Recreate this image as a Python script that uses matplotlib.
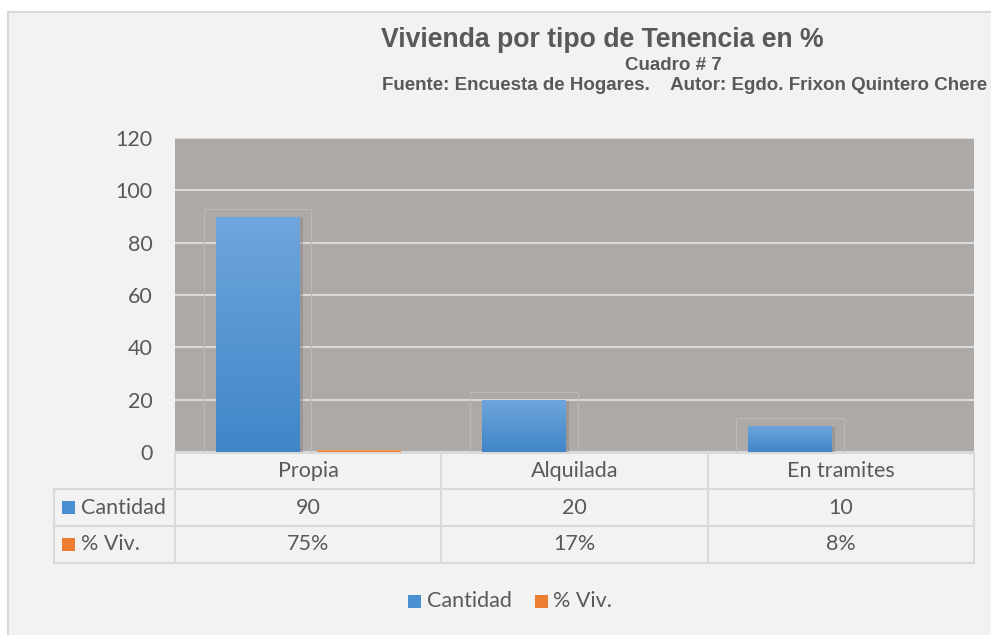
import matplotlib
matplotlib.use("Agg")
import matplotlib.pyplot as plt
import numpy as np
from matplotlib.patches import Rectangle
from matplotlib.transforms import blended_transform_factory
from matplotlib.lines import Line2D

categories = ["Propia", "Alquilada", "En tramites"]
cantidad = [90, 20, 10]
pct_viv = [0.75, 0.17, 0.08]
pct_labels = ["75%", "17%", "8%"]
series_names = ["Cantidad", "% Viv."]
yticks = [0, 20, 40, 60, 80, 100, 120]

W, H = 991, 635
FS = 15.5
fig = plt.figure(figsize=(W / 100, H / 100), dpi=100)
fig.patch.set_facecolor("white")

# chart area background with border
fig.patches.append(Rectangle((8 / W, -0.01), 1.0, 1 - 12 / H + 0.01, transform=fig.transFigure,
                             facecolor="#f2f2f2", edgecolor="#d9d9d9", linewidth=1.5, zorder=-5))

ax = fig.add_axes([175 / W, 1 - 452 / H, (974 - 175) / W, (452 - 138) / H])
ax.set_zorder(1)
ax.set_facecolor("#ada9a6")
ax.set_xlim(-0.5, 2.5)
ax.set_ylim(0, 120)
ax.set_yticks(yticks)
ax.set_yticklabels([str(v) for v in yticks], fontsize=FS, color="#595959", family="Lato")
ax.tick_params(axis="y", length=0, pad=16)
ax.set_xticks([])
for s in ax.spines.values():
    s.set_visible(False)
ax.grid(axis="y", color="#d9d9d9", linewidth=1.5)
ax.set_axisbelow(True)

x = np.arange(len(categories))
off, bw = 0.19, 0.315

def grad_bars(xs, vals, c_top, c_bot, z=3, frame=True):
    bars = ax.bar(xs, vals, width=bw, color=c_bot, zorder=z, linewidth=0)
    cmap = matplotlib.colors.LinearSegmentedColormap.from_list("g", [c_bot, c_top])
    grad = np.linspace(0, 1, 256).reshape(-1, 1)
    for b in bars:
        xb, yb, wb, hb = b.get_x(), b.get_y(), b.get_width(), b.get_height()
        if hb <= 0:
            continue
        im = ax.imshow(grad, extent=[xb, xb + wb, yb, yb + hb], origin="lower",
                       cmap=cmap, aspect="auto", zorder=z + 0.1)
        im.set_clip_path(b)
        if frame:
            ax.add_patch(Rectangle((xb - 0.045, yb), wb + 0.09, hb + 3.0, fill=False,
                                   edgecolor="#bdb9b6", linewidth=0.8, zorder=2))
            ax.add_patch(Rectangle((xb + 0.012, yb), wb, hb - 0.4, facecolor="#8f8a87",
                                   edgecolor="none", alpha=0.6, zorder=z - 0.5))
    return bars

grad_bars(x - off, cantidad, "#6fa6dd", "#3f86c8")
grad_bars(x + off, pct_viv, "#f4a263", "#ed7d31", frame=False)
ax.set_xlim(-0.5, 2.5)
ax.set_ylim(0, 120)

# data table
tr = blended_transform_factory(ax.transData, ax.transAxes)
lc = "#d9d9d9"
rows_y = [(452 - 453) / 314, (452 - 489) / 314, (452 - 526) / 314, (452 - 563) / 314]
left_x = (54 - 175) / (974 - 175)
ax.add_line(Line2D([-0.5, 2.5], [rows_y[0]] * 2, transform=tr, color=lc, lw=1.5, clip_on=False))
for yy in rows_y[1:]:
    ax.add_line(Line2D([left_x, 1.0], [yy] * 2, transform=ax.transAxes, color=lc, lw=1.5, clip_on=False))
for xb in [-0.5, 0.5, 1.5, 2.5]:
    ax.add_line(Line2D([xb, xb], [rows_y[0], rows_y[3]], transform=tr, color=lc, lw=1.5, clip_on=False))
ax.add_line(Line2D([left_x, left_x], [rows_y[1], rows_y[3]], transform=ax.transAxes, color=lc, lw=1.5, clip_on=False))

tcol = "#595959"
for i, c in enumerate(categories):
    ax.text(i, (rows_y[0] + rows_y[1]) / 2, c, transform=tr, ha="center", va="center",
            fontsize=FS, color=tcol, family="Lato")
    ax.text(i, (rows_y[1] + rows_y[2]) / 2, str(cantidad[i]), transform=tr, ha="center", va="center",
            fontsize=FS, color=tcol, family="Lato")
    ax.text(i, (rows_y[2] + rows_y[3]) / 2, pct_labels[i], transform=tr, ha="center", va="center",
            fontsize=FS, color=tcol, family="Lato")

sq_colors = ["#4a8fd0", "#ed7d31"]
for r, (name, col) in enumerate(zip(series_names, sq_colors)):
    yc = (rows_y[r + 1] + rows_y[r + 2]) / 2
    yc_fig = fig.transFigure.inverted().transform(ax.transAxes.transform((0, yc)))[1]
    fig.patches.append(Rectangle((62 / W, yc_fig - 6.5 / H), 13 / W, 13 / H, transform=fig.transFigure,
                                 facecolor=col, edgecolor="none", zorder=5))
    fig.text(81 / W, yc_fig, name, ha="left", va="center", fontsize=FS, color=tcol, family="Lato")

# legend
ly = 1 - 601 / H
fig.patches.append(Rectangle((408 / W, ly - 6.5 / H), 13 / W, 13 / H, transform=fig.transFigure,
                             facecolor=sq_colors[0], edgecolor="none"))
fig.text(427 / W, ly, series_names[0], ha="left", va="center", fontsize=FS, color=tcol, family="Lato")
fig.patches.append(Rectangle((535 / W, ly - 6.5 / H), 13 / W, 13 / H, transform=fig.transFigure,
                             facecolor=sq_colors[1], edgecolor="none"))
fig.text(553 / W, ly, series_names[1], ha="left", va="center", fontsize=FS, color=tcol, family="Lato")

# titles
fig.text(602 / W, 1 - 40 / H, "Vivienda por tipo de Tenencia en %", ha="center", va="center",
         fontsize=19.2, fontweight="bold", color="#595959", family="Liberation Sans")
fig.text(673 / W, 1 - 65 / H, "Cuadro # 7", ha="center", va="center",
         fontsize=13.5, fontweight="bold", color="#595959", family="Liberation Sans")
fig.text(987 / W, 1 - 86 / H, "Fuente: Encuesta de Hogares.    Autor: Egdo. Frixon Quintero Chere",
         ha="right", va="center", fontsize=13.5, fontweight="bold", color="#595959", family="Liberation Sans")

fig.savefig("out.png", dpi=100, facecolor=fig.get_facecolor())
